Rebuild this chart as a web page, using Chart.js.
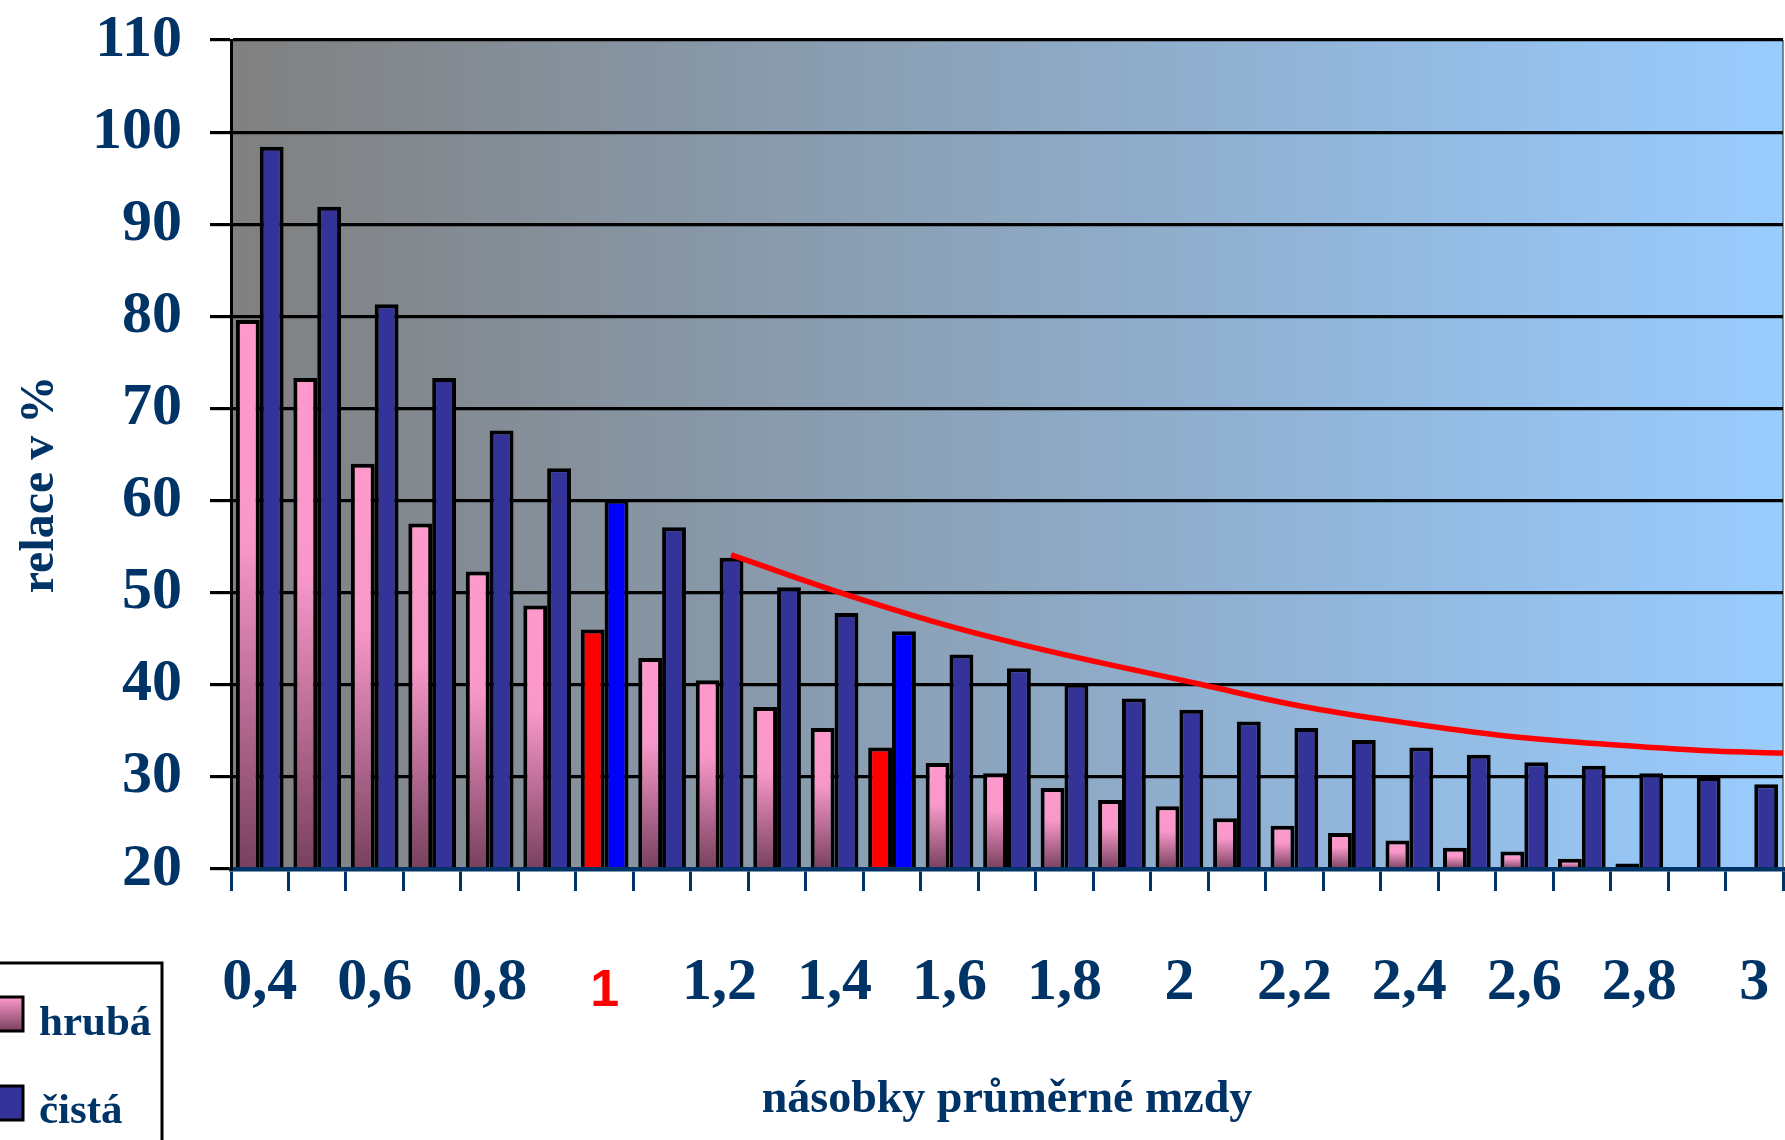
<!DOCTYPE html>
<html>
<head>
<meta charset="utf-8">
<script src="https://cdn.jsdelivr.net/npm/chart.js@4"></script>
<style>
    html, body { margin: 0; padding: 0; background: #fff; }
    #wrap { width: 1785px; height: 1140px; }
</style>
</head>
<body>
<div id="wrap"><canvas id="canvas" width="1785" height="1140"></canvas></div>
<script>
// Násobky průměrné mzdy (kategorie osy x)
const categories = ['0,4', '0,5', '0,6', '0,7', '0,8', '0,9', '1', '1,1', '1,2', '1,3', '1,4', '1,5', '1,6', '1,7',
    '1,8', '1,9', '2', '2,1', '2,2', '2,3', '2,4', '2,5', '2,6', '2,7', '2,8', '2,9', '3'];

// Relace v % - hrubá a čistá
const hruba = [79.6, 73.3, 64.0, 57.5, 52.3, 48.6, 46.0, 42.9, 40.5, 37.6, 35.3, 33.2, 31.5, 30.4,
    28.8, 27.5, 26.8, 25.5, 24.7, 23.9, 23.1, 22.3, 21.9, 21.1, 20.6, null, null];
const cista = [98.4, 91.9, 81.3, 73.3, 67.6, 63.5, 60.1, 57.1, 53.8, 50.6, 47.8, 45.8, 43.3, 41.8,
    40.1, 38.5, 37.3, 36.0, 35.3, 34.0, 33.2, 32.4, 31.6, 31.2, 30.4, 30.0, 29.2];

// Zvýrazněné sloupce (1 a 1,5 násobek)
const highlight = [6, 11];

// Červená křivka (x = násobek mzdy, y = relace)
const curveX = [1.22, 1.45, 1.69, 2.04, 2.21, 2.38, 2.56, 2.73, 2.93, 3.05];
const curveY = [54.1, 49.2, 44.9, 40.0, 37.7, 36.0, 34.5, 33.6, 32.8, 32.6];

// Osa y
const yMin = 20;
const yMax = 110;
const yStep = 10;

const navy = '#003366';
const serif = "'Liberation Serif', 'Times New Roman', serif";

/**
 * Růžový přechod pro každý sloupec zvlášť.
 */
function pinkFill(ctx) {
    if (highlight.includes(ctx.dataIndex)) return '#FF0000';
    const chart = ctx.chart;
    if (!chart.chartArea || ctx.raw == null) return '#FF99CC';
    const y = chart.scales.y;
    const top = y.getPixelForValue(ctx.raw);
    const bottom = y.getPixelForValue(yMin);
    if (!(bottom > top)) return '#FF99CC';
    const g = chart.ctx.createLinearGradient(0, top, 0, bottom);
    g.addColorStop(0, '#FF99CC');
    g.addColorStop(0.4, '#F898C9');
    g.addColorStop(1, '#78405E');
    return g;
}

function blueFill(ctx) {
    return highlight.includes(ctx.dataIndex) ? '#0000FF' : '#333399';
}

// Násobek mzdy -> pozice na kategoriové ose (0,4 = 0, 0,5 = 1, ...)
function toIndex(v) {
    return (v - 0.4) / 0.1;
}

// Pozadí plochy grafu - šedá do světle modré
const plotBackground = {
    id: 'plotBackground',
    beforeDraw(chart) {
        const { ctx, chartArea: a } = chart;
        const g = ctx.createLinearGradient(a.left, 0, a.right, 0);
        g.addColorStop(0, '#808080');
        g.addColorStop(1, '#99CCFF');
        ctx.save();
        ctx.fillStyle = g;
        ctx.fillRect(a.left, a.top, a.right - a.left, a.bottom - a.top);
        // tenký okraj vpravo
        ctx.strokeStyle = '#556677';
        ctx.lineWidth = 1.5;
        ctx.beginPath();
        ctx.moveTo(a.right, a.top);
        ctx.lineTo(a.right, a.bottom);
        ctx.stroke();
        ctx.restore();
    }
};

// Legenda v rámečku vlevo dole
const boxLegend = {
    id: 'boxLegend',
    afterDraw(chart) {
        const ctx = chart.ctx;
        ctx.save();
        ctx.lineWidth = 3;
        ctx.strokeStyle = '#000';
        ctx.strokeRect(-5, 963, 167, 200);

        const rows = [{ ds: 0, top: 997, base: 1035 }, { ds: 1, top: 1086, base: 1123 }];
        rows.forEach(r => {
            let fill = '#333399';
            if (r.ds === 0) {
                fill = ctx.createLinearGradient(0, r.top, 0, r.top + 34);
                fill.addColorStop(0, '#FF99CC');
                fill.addColorStop(1, '#78405E');
            }
            ctx.fillStyle = fill;
            ctx.fillRect(-10, r.top, 33, 34);
            ctx.strokeRect(-10, r.top, 33, 34);

            ctx.fillStyle = navy;
            ctx.font = 'bold 43px ' + serif;
            ctx.textAlign = 'left';
            ctx.textBaseline = 'alphabetic';
            ctx.fillText(chart.data.datasets[r.ds].label, 39, r.base);
        });
        ctx.restore();
    }
};

const config = {
    type: 'bar',
    data: {
        labels: categories,
        datasets: [
            {
                label: 'hrubá',
                data: hruba,
                backgroundColor: pinkFill,
                borderColor: '#000',
                borderWidth: 4,
                categoryPercentage: 0.83,
                barPercentage: 1.0,
                order: 1
            },
            {
                label: 'čistá',
                data: cista,
                backgroundColor: blueFill,
                borderColor: '#000',
                borderWidth: 4,
                categoryPercentage: 0.83,
                barPercentage: 1.0,
                order: 1
            },
            {
                type: 'line',
                label: 'trend',
                parsing: false,
                data: curveX.map((x, i) => ({ x: toIndex(x), y: curveY[i] })),
                borderColor: '#FF0000',
                borderWidth: 5.5,
                pointRadius: 0,
                fill: false,
                tension: 0.4,
                order: 0
            }
        ]
    },
    options: {
        responsive: false,
        animation: false,
        devicePixelRatio: 1,
        layout: { padding: { top: 40, right: 2, left: 0, bottom: 0 } },
        plugins: {
            legend: { display: false },
            tooltip: { enabled: false }
        },
        scales: {
            x: {
                type: 'category',
                grid: {
                    offset: true,
                    drawOnChartArea: false,
                    drawTicks: true,
                    tickLength: 22,
                    color: navy,
                    lineWidth: 3
                },
                border: { display: true, color: navy, width: 4.5, z: 1 },
                ticks: {
                    autoSkip: false,
                    maxRotation: 0,
                    minRotation: 0,
                    padding: 56,
                    color: ctx => highlight[0] === ctx.index ? '#FF0000' : navy,
                    font: ctx => ctx.index === highlight[0]
                        ? { family: "'Liberation Sans', Arial, sans-serif", size: 52, weight: 'bold', lineHeight: 1.7 }
                        : { family: serif, size: 60, weight: 'bold' },
                    callback: (v, i) => (i % 2 === 0 ? categories[i] : '')
                },
                title: {
                    display: true,
                    text: 'násobky průměrné mzdy',
                    color: navy,
                    font: { family: serif, size: 46, weight: 'bold' },
                    padding: { top: 0, bottom: 12 }
                },
                afterFit(s) {
                    s.height = 271;
                    s.paddingLeft = 0;
                    s.paddingRight = 0;
                }
            },
            y: {
                min: yMin,
                max: yMax,
                ticks: {
                    stepSize: yStep,
                    padding: 28,
                    color: navy,
                    font: { family: serif, size: 60, weight: 'bold' }
                },
                grid: { color: '#000', lineWidth: 3.2, tickLength: 21 },
                border: { color: '#000', width: 3, z: 1 },
                title: {
                    display: true,
                    text: 'relace v %     ',
                    color: navy,
                    font: { family: serif, size: 48, weight: 'bold' },
                    padding: { top: 12, bottom: 0 }
                },
                afterFit(s) {
                    s.width = 231;
                    s.paddingTop = 0;
                    s.paddingBottom = 0;
                }
            }
        }
    },
    plugins: [plotBackground, boxLegend]
};

new Chart('canvas', config);
</script>
</body>
</html>
